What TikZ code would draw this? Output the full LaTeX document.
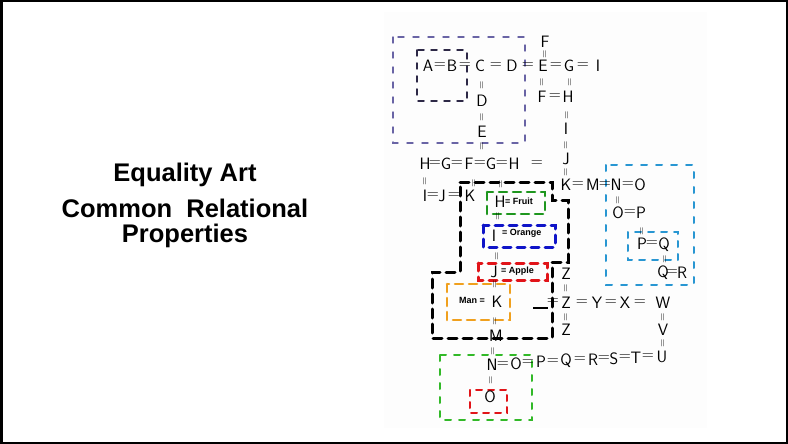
\documentclass[tikz,border=0pt]{standalone}
\usepackage{fontspec}
\setmainfont{Liberation Sans}
\definecolor{purp}{RGB}{105,100,165}
\definecolor{dkbox}{RGB}{45,40,70}
\definecolor{grn}{RGB}{30,150,30}
\definecolor{blu}{RGB}{15,20,200}
\definecolor{rd}{RGB}{225,20,25}
\definecolor{org}{RGB}{240,160,30}
\definecolor{lblu}{RGB}{40,150,210}
\definecolor{grn2}{RGB}{50,185,40}
\definecolor{paper}{RGB}{253,253,253}
\newcommand{\hwl}[4]{\node[hw] (#1) at (#2,#3) {#4};}
\newcommand{\vql}[3]{\node[vq] (#1) at (#2,#3) {=};}
\tikzset{
  hw/.style={font=\sffamily\fontsize{16.5}{16.5}\selectfont, inner sep=0pt, anchor=center},
  vq/.style={font=\sffamily\fontsize{11}{11}\selectfont, inner sep=0pt, rotate=90},
  lab/.style={font=\bfseries\fontsize{9}{9}\selectfont, inner sep=0pt},
  ttl/.style={font=\bfseries\fontsize{25.5}{30}\selectfont, inner sep=0pt},
  dbox/.style={line width=#1, dash pattern=on 8pt off 6pt, line cap=round},
}
\begin{document}
\begin{tikzpicture}[x=1pt,y=-1pt]
\useasboundingbox (0,0) rectangle (788,444);
\fill[paper] (384,12) rectangle (707,428);
\draw[line width=2.5pt] (1.25,1.25) rectangle (786.75,442.75);

% title
\node[ttl] (t1) at (185,175) {Equality Art};
\node[ttl] (t2) at (185,208) {Common\ \ Relational};
\node[ttl] (t3) at (185,236) {Properties};

% boxes
\draw[dbox=1.4pt, purp, dash pattern=on 6pt off 9pt] (393,37) rectangle (525,143);
\draw[dbox=1.5pt, dkbox, dash pattern=on 6pt off 7pt] (417,50) rectangle (467,101);
\draw[dbox=3pt, black, dash pattern=on 9pt off 6pt] (460,182) -- (552,182) -- (552,200) -- (568,200) -- (568,262) -- (552,262) -- (552,338) -- (432,338) -- (432,272) -- (460,272) -- cycle;
\draw[dbox=2.6pt, grn] (487,192) rectangle (545,214);
\draw[dbox=3pt, blu] (483,225) rectangle (555,247);
\draw[dbox=3pt, rd] (478,263) rectangle (547,280);
\draw[dbox=2.6pt, org] (447,284) rectangle (510,320);
\draw[dbox=2pt, lblu, dash pattern=on 6pt off 9pt] (606,165) rectangle (694,285);
\draw[dbox=2pt, lblu, dash pattern=on 6pt off 7pt] (628,232) rectangle (678,260);
\draw[dbox=2pt, grn2, dash pattern=on 6pt off 8pt] (440,355) rectangle (532,420);
\draw[dbox=2pt, rd, dash pattern=on 6pt off 6pt] (470,390) rectangle (507,413);

% row 1
\hwl{a1}{428}{66}{A}\hwl{a2}{440}{66}{=}\hwl{a3}{452}{66}{B}\hwl{a4}{465}{66}{=}
\hwl{a5}{480}{66}{C}\hwl{a6}{496}{66}{=}\hwl{a7}{512}{66}{D}\hwl{a8}{528}{66}{=}
\hwl{a9}{543}{66}{E}\hwl{a10}{556}{66}{=}\hwl{a11}{569}{66}{G}\hwl{a12}{583}{66}{=}
\hwl{a13}{598}{66}{I}
\hwl{b1}{545}{42}{F}\vql{b2}{545}{54}
% column under C
\vql{c1}{482}{85}\hwl{c2}{482}{101}{D}\vql{c3}{482}{117}\hwl{c4}{482}{132}{E}\vql{c5}{482}{146}
% column under E and G
\vql{d1}{542}{82}\hwl{d2}{542}{97}{F}\hwl{d3}{555}{97}{=}\hwl{d4}{568}{97}{H}
\vql{e1}{570}{82}\vql{e2}{567}{115}\hwl{e3}{566}{129}{I}\vql{e4}{566}{145}
\hwl{e5}{566}{159}{J}\vql{e6}{566}{172}
% row H = G = F = G = H = J
\hwl{f1}{425}{164}{H}\hwl{f2}{435}{164}{=}\hwl{f3}{446}{164}{G}\hwl{f4}{457}{164}{=}
\hwl{f5}{469}{164}{F}\hwl{f6}{480}{164}{=}\hwl{f7}{491}{164}{G}\hwl{f8}{502}{164}{=}
\hwl{f9}{514}{164}{H}\hwl{f10}{537}{164}{=}
% row I = J = K
\vql{g1}{425}{181}\hwl{g2}{425}{196}{I}\hwl{g3}{433}{196}{=}\hwl{g4}{442}{196}{J}
\hwl{g5}{454}{196}{=}\hwl{g6}{470}{196}{K}
\vql{g7}{474}{183}\vql{g8}{501}{184}
% row K = M = N = O
\hwl{k1}{566}{185}{K}\hwl{k2}{578}{185}{=}\hwl{k3}{593}{185}{M}\hwl{k4}{605}{185}{=}
\hwl{k5}{616}{185}{N}\hwl{k6}{628}{185}{=}\hwl{k7}{640}{185}{O}
\vql{k8}{618}{200}\hwl{k9}{618}{213}{O}\hwl{k10}{630}{213}{=}\hwl{k11}{641}{213}{P}
\vql{k12}{642}{231}\hwl{k13}{642}{244}{P}\hwl{k14}{652}{244}{=}\hwl{k15}{664}{245}{Q}
\vql{k16}{665}{259}\hwl{k17}{663}{273}{Q}\hwl{k18}{672}{273}{=}\hwl{k19}{682}{273}{R}
% colored box contents
\hwl{h1}{500}{202}{H}\node[lab, anchor=west] (h2) at (505,201) {= Fruit};
\vql{h3}{498}{216}
\hwl{i1}{494}{236}{I}\node[lab, anchor=west] (i2) at (502,233) {= Orange};
\vql{i3}{497}{256}
\hwl{j1}{494}{272}{J}\node[lab, anchor=west] (j2) at (501,271) {= Apple};
\vql{j3}{495}{284}
\node[lab, anchor=east] (m1) at (485,300) {Man =};\hwl{m2}{497}{302}{K}
\vql{m3}{495}{321}\hwl{m4}{496}{336}{M}
% Z column and row
\hwl{z1}{566}{274}{Z}\vql{z2}{566}{288}
\hwl{z3}{553}{302}{=}\hwl{z4}{566}{303}{Z}\hwl{z5}{582}{303}{=}\hwl{z6}{597}{303}{Y}
\hwl{z7}{611}{303}{=}\hwl{z8}{625}{303}{X}\hwl{z9}{640}{303}{=}\hwl{z10}{663}{303}{W}
\vql{z11}{566}{317}\hwl{z12}{566}{330}{Z}
\vql{z13}{663}{317}\hwl{z14}{663}{330}{V}\vql{z15}{663}{343}
\coordinate (ln1) at (533,308);
\coordinate (ln2) at (548,308);
\draw[line width=1.2pt] (ln1) -- (ln2);
% bottom row
\vql{n0}{493}{351}
\hwl{n1}{492}{365}{N}\hwl{n2}{503}{365}{=}\hwl{n3}{516}{364}{O}\hwl{n4}{528}{363}{=}
\hwl{n5}{541}{362}{P}\hwl{n6}{553}{362}{=}\hwl{n7}{566}{361}{Q}\hwl{n8}{580}{360}{=}
\hwl{n9}{593}{360}{R}\hwl{n10}{604}{359}{=}\hwl{n11}{614}{359}{S}\hwl{n12}{625}{358}{=}
\hwl{n13}{636}{358}{T}\hwl{n14}{648}{357}{=}\hwl{n15}{662}{357}{U}
\vql{o1}{491}{380}\hwl{o2}{490}{397}{O}
\end{tikzpicture}
\end{document}
